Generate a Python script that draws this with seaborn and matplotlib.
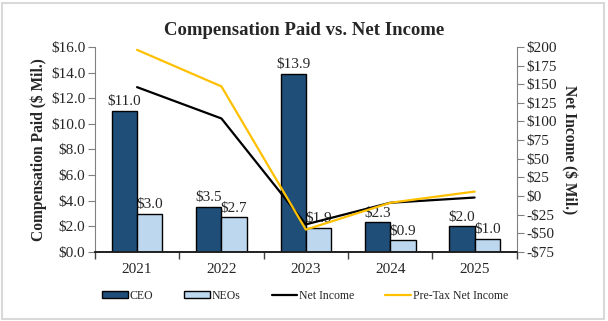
import numpy as np
import pandas as pd
import matplotlib
matplotlib.use("Agg")
import matplotlib.pyplot as plt
from matplotlib.patches import Patch, Rectangle
from matplotlib.lines import Line2D
from matplotlib.ticker import FixedLocator, NullFormatter
import seaborn as sns

years = ["2021", "2022", "2023", "2024", "2025"]
ceo_pay = [11.0, 3.5, 13.9, 2.3, 2.0]
neo_pay = [3.0, 2.7, 1.9, 0.9, 1.0]
net_income = [146, 104, -38, -9, -2]
pretax_income = [196, 147, -45, -9, 6]

ceo_color = "#1F4E79"
neo_color = "#BDD7EE"
net_color = "#000000"
pretax_color = "#FFC000"

sns.set_style("white")
plt.rcParams["font.family"] = ["Liberation Serif", "DejaVu Serif"]

df = pd.DataFrame({
    "Year": years * 2,
    "Pay": ceo_pay + neo_pay,
    "Group": ["CEO"] * len(years) + ["NEOs"] * len(years),
})

fig = plt.figure(figsize=(6.08, 3.21), dpi=100)
ax = fig.add_axes([0.156, 0.215, 0.694, 0.639])

sns.barplot(data=df, x="Year", y="Pay", hue="Group", order=years,
            hue_order=["CEO", "NEOs"], palette=[ceo_color, neo_color],
            width=0.6, edgecolor="black", linewidth=1.0, ax=ax,
            legend=False, errorbar=None, saturation=1)

for cont in ax.containers:
    ax.bar_label(cont, labels=[f"${v:.1f}" for v in cont.datavalues],
                 fontsize=11, padding=2)

ax.set_ylim(0, 16)
ax.set_yticks(np.arange(0, 16.1, 2))
ax.set_yticklabels([f"${v:.1f}" for v in np.arange(0, 16.1, 2)], fontsize=11)
ax.set_xlim(-0.5, len(years) - 0.5)
ax.set_xlabel("")
ax.set_ylabel("Compensation Paid ($ Mil.)", fontsize=11.2, fontweight="bold",
              labelpad=3)
ax.tick_params(axis="x", which="major", length=0, labelsize=11, pad=8)
ax.xaxis.set_minor_locator(FixedLocator(np.arange(-0.5, len(years), 1.0)))
ax.xaxis.set_minor_formatter(NullFormatter())
ax.tick_params(axis="x", which="minor", length=5, width=1, color="#404040",
               direction="out", bottom=True)
ax.tick_params(axis="y", length=5, width=0.8, color="#808080",
               direction="out", left=True, pad=2)

ax2 = ax.twinx()
xpos = np.arange(len(years))
ax2.plot(xpos, net_income, color=net_color, lw=1.6)
ax2.plot(xpos, pretax_income, color=pretax_color, lw=1.6)
ax2.set_ylim(-75, 200)
rt = np.arange(-75, 201, 25)
ax2.set_yticks(rt)
ax2.set_yticklabels([f"-${-v}" if v < 0 else f"${v}" for v in rt], fontsize=11)
ax2.set_ylabel("Net Income ($ Mil.)", fontsize=11.2, fontweight="bold",
               rotation=270, labelpad=14)
ax2.tick_params(axis="y", length=5, width=0.8, color="#808080",
                direction="out", right=True, pad=2)

for a in (ax, ax2):
    a.spines["top"].set_visible(False)
    a.spines["left"].set_color("#808080")
    a.spines["right"].set_color("#808080")
    a.spines["bottom"].set_color("#202020")
    a.spines["bottom"].set_linewidth(1.2)
ax2.spines["left"].set_visible(False)
ax.spines["right"].set_visible(False)

fig.suptitle("Compensation Paid vs. Net Income", fontsize=13.5,
             fontweight="bold", y=0.93)

handles = [
    Patch(facecolor=ceo_color, edgecolor="black", lw=1.0, label="CEO"),
    Patch(facecolor=neo_color, edgecolor="black", lw=1.0, label="NEOs"),
    Line2D([], [], color=net_color, lw=1.6, label="Net Income"),
    Line2D([], [], color=pretax_color, lw=1.6, label="Pre-Tax Net Income"),
]
fig.legend(handles=handles, loc="center", bbox_to_anchor=(0.502, 0.078),
           ncol=4, frameon=False, fontsize=8.5, handlelength=2.2,
           handleheight=0.5, handletextpad=0.15, columnspacing=2.6)

fig.patches.append(Rectangle((0.004, 0.006), 0.99, 0.985,
                             transform=fig.transFigure, fill=False,
                             edgecolor="#D9D9D9", lw=1.5))

fig.savefig("out.png", dpi=100)
